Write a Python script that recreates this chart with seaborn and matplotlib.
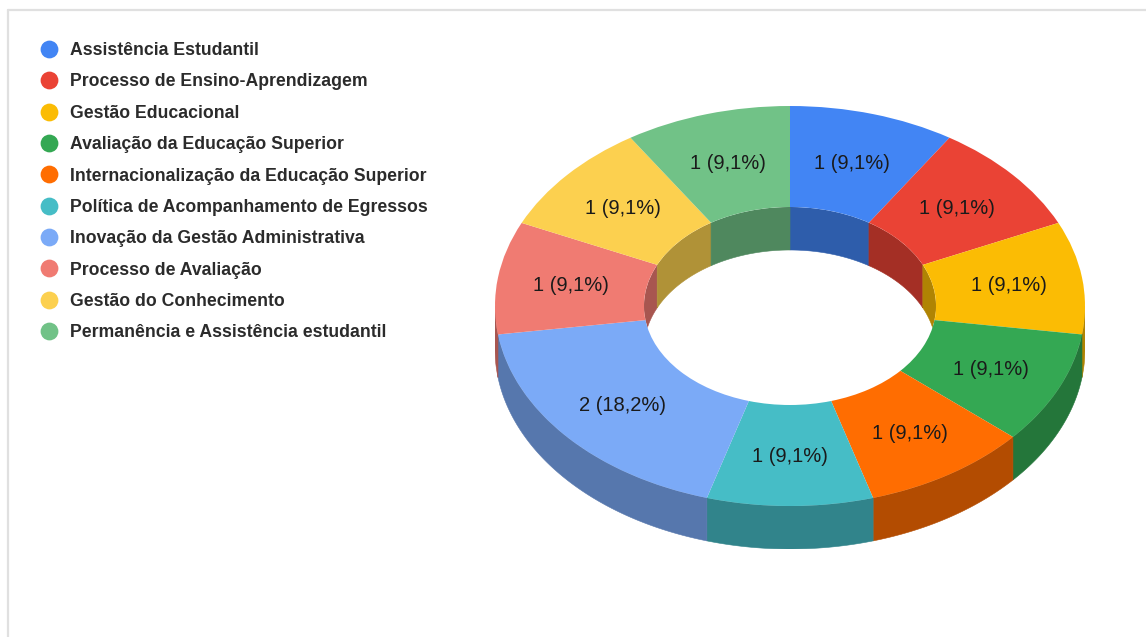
import numpy as np
import pandas as pd
import matplotlib
matplotlib.use('Agg')
import matplotlib.pyplot as plt
from matplotlib.lines import Line2D
from matplotlib.patches import Ellipse
import seaborn as sns

# Dados do gráfico
categories = [
    'Assistência Estudantil',
    'Processo de Ensino-Aprendizagem',
    'Gestão Educacional',
    'Avaliação da Educação Superior',
    'Internacionalização da Educação Superior',
    'Política de Acompanhamento de Egressos',
    'Inovação da Gestão Administrativa',
    'Processo de Avaliação',
    'Gestão do Conhecimento',
    'Permanência e Assistência estudantil',
]
counts = [1, 1, 1, 1, 1, 1, 2, 1, 1, 1]
hex_colors = ['#4285F4', '#EA4335', '#FBBC04', '#34A853', '#FF6D01',
              '#46BDC6', '#7BAAF7', '#F07B72', '#FCD04F', '#71C287']

# Geometria em pixels da imagem
W, H = 1146, 637
CX, CY = 790, 306
RX, RY = 295, 200
DEPTH_PX = 43
INNER = 0.495
DARKEN = 0.7

sns.set_theme(style='white')
plt.rcParams['font.family'] = ['Liberation Sans', 'DejaVu Sans']
palette = sns.color_palette(hex_colors)

df = pd.DataFrame({'categoria': categories, 'n': counts})
total = df['n'].sum()
# angulos no sentido horario a partir do topo
df['fim'] = df['n'].cumsum() / total * 2 * np.pi
df['ini'] = df['fim'] - df['n'] / total * 2 * np.pi
depth = DEPTH_PX / RY

fig = plt.figure(figsize=(W / 100, H / 100), dpi=100)
ax = fig.add_axes([(CX - RX) / W, (H - CY - RY - DEPTH_PX) / H,
                   2 * RX / W, (2 * RY + DEPTH_PX) / H])


def label_pct(pct):
    n = int(round(pct / 100 * total))
    return f'{n} ({pct:.1f}%)'.replace('.', ',')


def wall(ax, t0, t1, radius, color, zorder, clip=None):
    """Parede lateral do anel entre os angulos t0 e t1."""
    if t1 <= t0:
        return
    t = np.linspace(t0, t1, 80)
    x = radius * np.sin(t)
    y = radius * np.cos(t)
    poly = ax.fill(np.r_[x, x[::-1]], np.r_[y, y[::-1] - depth],
                   color=color, lw=0.4, zorder=zorder)[0]
    if clip is not None:
        poly.set_clip_path(clip)


hole = Ellipse((0, 0), 2 * INNER, 2 * INNER, transform=ax.transData)

for (_, row), color in zip(df.iterrows(), palette):
    dark = tuple(c * DARKEN for c in color)
    # parede externa: so a metade da frente aparece
    wall(ax, max(row['ini'], np.pi / 2), min(row['fim'], 3 * np.pi / 2), 1, dark, 1)
    # parede interna: metade de tras, vista pelo furo
    wall(ax, row['ini'], min(row['fim'], np.pi / 2), INNER, dark, 1, clip=hole)
    wall(ax, max(row['ini'], 3 * np.pi / 2), row['fim'], INNER, dark, 1, clip=hole)

wedges, _, autotexts = ax.pie(
    df['n'], colors=palette, startangle=90, counterclock=False, radius=1,
    autopct=label_pct, pctdistance=0.75,
    wedgeprops={'width': 1 - INNER, 'linewidth': 0},
    textprops={'fontsize': 14.5, 'color': '#1a1a1a'},
)
for w in wedges:
    w.set_zorder(2)
for txt in autotexts:
    txt.set_zorder(3)
    # rotulos ficam um pouco abaixo do centro da fatia
    x, y = txt.get_position()
    txt.set_position((x, y - 1 / RY))

ax.set_aspect('auto')
ax.set_xlim(-1, 1)
ax.set_ylim(-1 - depth, 1)
ax.axis('off')

# Legenda
handles = [Line2D([], [], linestyle='none', marker='o', markersize=12.8,
                  markerfacecolor=c, markeredgewidth=0) for c in palette]
fig.legend(handles, categories, loc='upper left',
           bbox_to_anchor=(37 / W, 1 - 42 / H), frameon=False,
           prop={'family': 'Liberation Sans', 'weight': 'bold', 'size': 12.7},
           labelcolor='#2b2b2b', labelspacing=0.815, handletextpad=0.5,
           handlelength=1.37, borderpad=0, borderaxespad=0)

# Moldura da captura de tela
frame = dict(color='#e0e0e0', lw=1.6, transform=fig.transFigure)
fig.add_artist(Line2D([8 / W, 1], [1 - 10 / H, 1 - 10 / H], **frame))
fig.add_artist(Line2D([8 / W, 8 / W], [0, 1 - 10 / H], **frame))

fig.savefig('out.png', dpi=100, facecolor='white')
